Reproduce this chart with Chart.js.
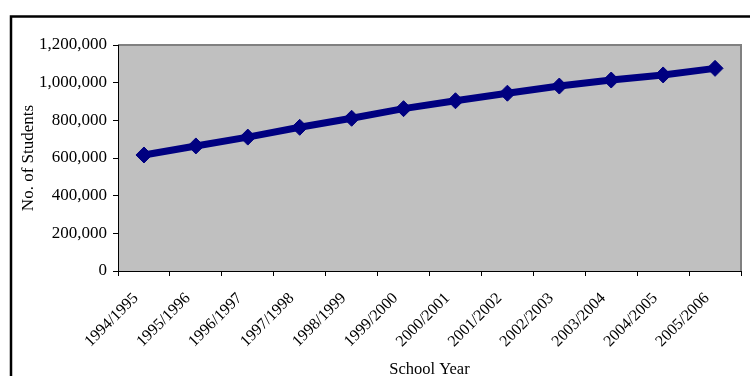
<!DOCTYPE html>
<html>
<head>
<meta charset="utf-8">
<script src="https://cdn.jsdelivr.net/npm/chart.js@4"></script>
<style>
  html, body { margin: 0; padding: 0; background: #ffffff; }
  #wrap { width: 750px; height: 376px; position: relative; }
</style>
</head>
<body>
<div id="wrap"><canvas id="c" width="750" height="376"></canvas></div>
<script>
// School years on the category axis
const schoolYears = [
  '1994/1995', '1995/1996', '1996/1997', '1997/1998', '1998/1999', '1999/2000',
  '2000/2001', '2001/2002', '2002/2003', '2003/2004', '2004/2005', '2005/2006'
];

// Enrolment per school year
const students = [
  616000, 664000, 711000, 763000, 811000, 862000,
  904000, 944000, 982000, 1014000, 1041000, 1076000
];

// Value axis ticks
const yTicks = [0, 200000, 400000, 600000, 800000, 1000000, 1200000];

const serif = '"Liberation Serif", "Times New Roman", serif';

// Grey plot background with a darker frame on top/right, plus the outer chart border
const framePlugin = {
  id: 'frame',
  beforeDraw(chart) {
    const { ctx, chartArea: a } = chart;
    ctx.save();
    ctx.fillStyle = '#c0c0c0';
    ctx.fillRect(a.left, a.top, a.right - a.left, a.bottom - a.top);
    ctx.strokeStyle = '#808080';
    ctx.lineWidth = 2;
    ctx.beginPath();
    ctx.moveTo(a.left, a.top);
    ctx.lineTo(a.right, a.top);
    ctx.lineTo(a.right, a.bottom);
    ctx.stroke();
    ctx.restore();
  },
  afterDraw(chart) {
    const { ctx } = chart;
    ctx.save();
    ctx.strokeStyle = '#000000';
    ctx.lineWidth = 2.5;
    ctx.strokeRect(11, 16.5, 760, 380);
    ctx.restore();
  }
};

new Chart(document.getElementById('c'), {
  type: 'line',
  data: {
    labels: schoolYears,
    datasets: [{
      data: students,
      borderColor: '#000080',
      backgroundColor: '#000080',
      borderWidth: 7,
      pointStyle: 'rectRot',
      pointRadius: 8,
      pointHoverRadius: 8,
      pointBorderWidth: 1,
      tension: 0
    }]
  },
  options: {
    responsive: false,
    animation: false,
    devicePixelRatio: 1,
    layout: { padding: { left: 0, top: 45, right: 8, bottom: 0 } },
    plugins: { legend: { display: false }, tooltip: { enabled: false } },
    scales: {
      x: {
        type: 'category',
        offset: true,
        grid: {
          offset: true,
          drawOnChartArea: false,
          drawTicks: true,
          tickLength: 5,
          color: '#000000',
          lineWidth: 1
        },
        border: { display: true, color: '#000000', width: 1 },
        ticks: {
          minRotation: 45,
          maxRotation: 45,
          autoSkip: false,
          padding: 13,
          labelOffset: -8,
          color: '#000000',
          font: { family: serif, size: 16 }
        },
        title: {
          display: true,
          text: 'School Year',
          color: '#000000',
          font: { family: serif, size: 16.5 },
          padding: { top: 0, bottom: -4 }
        },
        afterFit(scale) { scale.height = 105; }
      },
      y: {
        min: 0,
        max: 1200000,
        afterBuildTicks(scale) { scale.ticks = yTicks.map(v => ({ value: v })); },
        grid: {
          drawOnChartArea: false,
          drawTicks: true,
          tickLength: 5,
          color: '#000000',
          lineWidth: 1
        },
        border: { display: true, color: '#000000', width: 1 },
        ticks: {
          padding: 6,
          color: '#000000',
          font: { family: serif, size: 17 },
          callback: v => v.toLocaleString('en-US')
        },
        title: {
          display: true,
          text: 'No. of Students',
          color: '#000000',
          font: { family: serif, size: 17 },
          padding: { top: 18, bottom: 0 }
        },
        afterFit(scale) { scale.width = 118; }
      }
    }
  },
  plugins: [framePlugin]
});
</script>
</body>
</html>
